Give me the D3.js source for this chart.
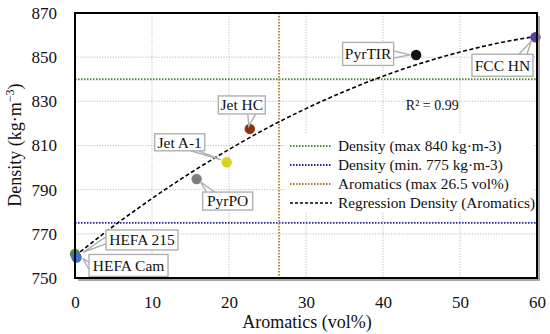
<!DOCTYPE html>
<html>
<head>
<meta charset="utf-8">
<script src="https://cdn.jsdelivr.net/npm/d3@7"></script>
</head>
<body style="margin:0">
<svg id="fig" width="550" height="334"></svg>
<script>
// fuels: aromatics (vol%) vs density (kg/m3)
const fuels = ["HEFA 215", "HEFA Cam", "PyrPO", "Jet A-1", "Jet HC", "PyrTIR", "FCC HN"];
const aromatics = [0, 0.2, 15.8, 19.7, 22.7, 44.3, 59.8];
const density = [760.9, 759.3, 794.8, 802.4, 817.5, 851, 859];
const fuelColors = ["#4f8a4f", "#3f6fc8", "#7f7f7f", "#d9d31f", "#8a3512", "#111111", "#5b3ea8"];

// regression curve
const regX = [0, 5, 10, 15, 20, 25, 30, 35, 40, 45, 50, 55, 60];
const regY = [760, 773.5, 786, 797.6, 808.2, 818, 826.7, 834.5, 841.4, 847.3, 852.3, 856.4, 859.5];

const xTicks = [0, 10, 20, 30, 40, 50, 60];
const yTicks = [750, 770, 790, 810, 830, 850, 870];
const densMax = 840, densMin = 775, aromMax = 26.5;

const legendItems = [
  { text: "Density (max 840 kg·m-3)", color: "#4e8a2c", dash: "1.5,1.5", w: 1.8 },
  { text: "Density (min. 775 kg·m-3)", color: "#23239c", dash: "1.5,1.5", w: 1.8 },
  { text: "Aromatics (max 26.5 vol%)", color: "#b47a26", dash: "1.5,1.5", w: 1.8 },
  { text: "Regression Density (Aromatics)", color: "#000", dash: "3,2", w: 1.5 }
];

// callout box placement (px offsets of box centre from the point), and pointer side
const callouts = [
  { dx: 67, dy: -14, w: 72, h: 20, side: "left" },
  { dx: 52, dy: 8, w: 79, h: 22, side: "left" },
  { dx: 31, dy: 22, w: 50, h: 18, side: "top" },
  { dx: -47, dy: -20, w: 50, h: 17, side: "bottomR" },
  { dx: -8, dy: -24, w: 47, h: 18, side: "bottom" },
  { dx: -48, dy: -1, w: 51, h: 23, side: "right" },
  { dx: -33, dy: 28, w: 61, h: 22, side: "topR" }
];

const W = 550, H = 334;
const m = { left: 75, right: 13, top: 13, bottom: 56 };

const svg = d3.select("#fig");
const root = svg.append("g").attr("font-family", "Liberation Serif").style("font-family", "Liberation Serif");

const x = d3.scaleLinear().domain([0, 60]).range([m.left, W - m.right]);
const y = d3.scaleLinear().domain([750, 870]).range([H - m.bottom, m.top]);

function label(sel, size) {
  return sel.attr("font-family", "Liberation Serif").style("font-family", "Liberation Serif")
    .style("font-size", size + "px").attr("fill", "#111");
}

// grid
root.append("g")
  .selectAll("line")
  .data(xTicks.slice(1, -1))
  .join("line")
  .attr("x1", d => x(d)).attr("x2", d => x(d))
  .attr("y1", y(870)).attr("y2", y(750))
  .attr("stroke", "#bdbdbd").attr("stroke-width", 1).attr("stroke-dasharray", "1.2,1.5");
root.append("g")
  .selectAll("line")
  .data(yTicks.slice(1, -1))
  .join("line")
  .attr("x1", x(0)).attr("x2", x(60))
  .attr("y1", d => y(d)).attr("y2", d => y(d))
  .attr("stroke", "#bdbdbd").attr("stroke-width", 1).attr("stroke-dasharray", "1.2,1.5");

// legend background (covers grid)
const lgX = 286, lgY = 134;
root.append("rect").attr("x", lgX).attr("y", lgY).attr("width", 247).attr("height", 79).attr("fill", "#fff");

// limit lines
root.append("line")
  .attr("x1", x(0)).attr("x2", x(60)).attr("y1", y(densMax)).attr("y2", y(densMax))
  .attr("stroke", legendItems[0].color).attr("stroke-width", 1.8).attr("stroke-dasharray", "1.5,1.5");
root.append("line")
  .attr("x1", x(0)).attr("x2", x(60)).attr("y1", y(densMin)).attr("y2", y(densMin))
  .attr("stroke", legendItems[1].color).attr("stroke-width", 1.8).attr("stroke-dasharray", "1.5,1.5");
root.append("line")
  .attr("x1", x(aromMax)).attr("x2", x(aromMax)).attr("y1", y(870)).attr("y2", y(750))
  .attr("stroke", legendItems[2].color).attr("stroke-width", 1.8).attr("stroke-dasharray", "1.5,1.5");

// regression
const line = d3.line().x(d => x(d[0])).y(d => y(d[1])).curve(d3.curveMonotoneX);
root.append("path")
  .datum(d3.zip(regX, regY))
  .attr("d", line)
  .attr("fill", "none").attr("stroke", "#000").attr("stroke-width", 1.6).attr("stroke-dasharray", "4,2.5");

// legend
const lg = root.append("g");
legendItems.forEach((it, i) => {
  const ly = lgY + 12 + i * 19;
  lg.append("line").attr("x1", lgX + 4).attr("x2", lgX + 46).attr("y1", ly).attr("y2", ly)
    .attr("stroke", it.color).attr("stroke-width", it.w).attr("stroke-dasharray", it.dash);
  label(lg.append("text"), 15.3).attr("x", lgX + 52).attr("y", ly).attr("dy", "0.35em").text(it.text);
});

// points
root.append("g")
  .selectAll("circle")
  .data(fuels)
  .join("circle")
  .attr("cx", (d, i) => x(aromatics[i]))
  .attr("cy", (d, i) => y(density[i]))
  .attr("r", 5.2)
  .attr("fill", (d, i) => fuelColors[i]);

// callouts
const cg = root.append("g");
fuels.forEach((name, i) => {
  const px = x(aromatics[i]), py = y(density[i]);
  const c = callouts[i];
  const cx = px + c.dx, cy = py + c.dy;
  const l = cx - c.w / 2, r = cx + c.w / 2, t = cy - c.h / 2, b = cy + c.h / 2;
  let base;
  if (c.side === "left") base = [[l, cy - 3], [l, cy + 4]];
  else if (c.side === "right") base = [[r, cy - 3], [r, cy + 4]];
  else if (c.side === "top") base = [[l + 4, t], [l + 12, t]];
  else if (c.side === "topR") base = [[r - 14, t], [r - 6, t]];
  else if (c.side === "bottom") base = [[cx + 6, b], [cx + 14, b]];
  else base = [[r - 14, b], [r - 6, b]];
  const tip = [px - (px - cx) * 0.12, py - (py - cy) * 0.12];
  cg.append("path")
    .attr("d", d3.line()([base[0], tip, base[1]]))
    .attr("fill", "#fff").attr("stroke", "#b0b0b0").attr("stroke-width", 1.4);
  cg.append("rect").attr("x", l).attr("y", t).attr("width", c.w).attr("height", c.h)
    .attr("fill", "#fff").attr("stroke", "#b0b0b0").attr("stroke-width", 1.4);
  label(cg.append("text"), 15.5).attr("x", cx).attr("y", cy).attr("dy", "0.35em")
    .attr("text-anchor", "middle").text(name);
});

// R²
label(root.append("text"), 14).attr("x", x(46.4)).attr("y", y(828.3)).attr("dy", "0.35em")
  .attr("text-anchor", "middle").text("R² = 0.99");

// frame with shadow
root.append("path")
  .attr("d", `M${x(60) + 2},${y(870) + 3} V${y(750) + 2} H${x(0) + 3}`)
  .attr("fill", "none").attr("stroke", "#8a8a8a").attr("stroke-width", 1.5);
root.append("rect")
  .attr("x", x(0)).attr("y", y(870)).attr("width", x(60) - x(0)).attr("height", y(750) - y(870))
  .attr("fill", "none").attr("stroke", "#000").attr("stroke-width", 2);

// axes
const xAxis = root.append("g").attr("transform", `translate(0,${y(750)})`)
  .call(d3.axisBottom(x).tickValues(xTicks).tickSize(0).tickPadding(18));
const yAxis = root.append("g").attr("transform", `translate(${x(0)},0)`)
  .call(d3.axisLeft(y).tickValues(yTicks).tickSize(0).tickPadding(18));
[xAxis, yAxis].forEach(a => {
  a.attr("font-family", "Liberation Serif").attr("font-size", null);
  a.select(".domain").remove();
  label(a.selectAll("text"), 17);
});

label(root.append("text"), 18).attr("x", 307).attr("y", 328).attr("text-anchor", "middle")
  .text("Aromatics (vol%)");

const yt = label(root.append("text"), 18).attr("transform", "translate(21,145) rotate(-90)")
  .attr("text-anchor", "middle");
yt.append("tspan").text("Density (kg·m");
yt.append("tspan").style("font-size", "12px").attr("dy", -7).text("−3");
yt.append("tspan").attr("dy", 7).text(")");
</script>
</body>
</html>
